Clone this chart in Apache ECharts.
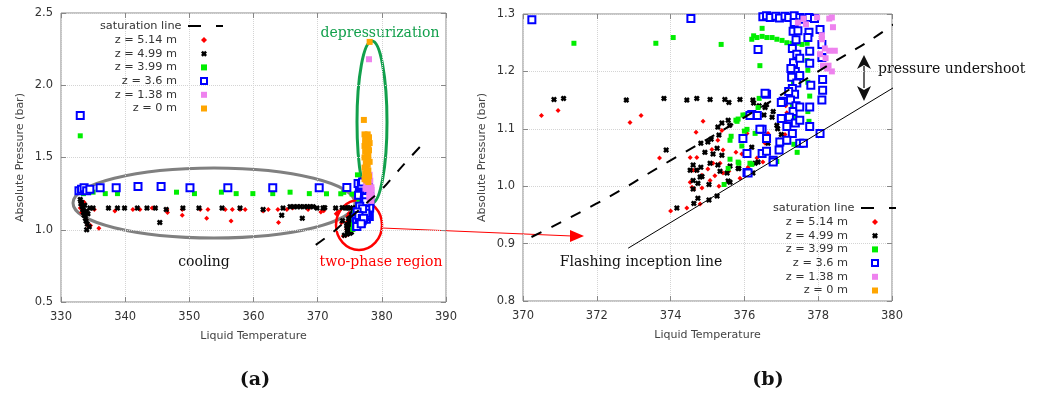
<!DOCTYPE html>
<html>
<head>
<meta charset="utf-8">
<script src="https://cdn.jsdelivr.net/npm/echarts@6/dist/echarts.min.js"></script>
<style>
  html, body { margin: 0; padding: 0; background: #fff; }
  #chart { width: 1043px; height: 397px; }
</style>
</head>
<body>
<div id="chart"></div>
<script>
// [liquid temperature (K), absolute pressure (bar)]
const z514 = [
  [333.0, 1.15], [333.3, 1.17], [333.5, 1.13], [333.7, 1.10], [333.9, 1.07], [334.1, 1.04], [334.3, 1.02],
  [333.6, 1.19], [333.2, 1.12], [334.6, 1.03], [335.9, 1.01], [335.2, 1.14], [338.4, 1.13], [341.2, 1.14],
  [342.3, 1.14], [344.2, 1.15], [346.5, 1.14], [346.6, 1.12], [348.9, 1.10], [348.9, 1.14], [351.7, 1.14],
  [352.7, 1.08], [352.9, 1.14], [355.6, 1.14], [356.5, 1.06], [356.7, 1.14], [357.9, 1.14], [358.7, 1.14],
  [361.5, 1.13], [362.3, 1.14], [363.8, 1.14], [363.9, 1.05], [365.2, 1.14], [366.1, 1.15], [368.5, 1.14],
  [370.5, 1.123], [370.95, 1.132], [372.9, 1.111], [373.2, 1.123], [373.7, 1.049], [374.88, 1.113],
  [374.69, 1.094], [375.39, 1.097], [375.28, 1.080], [375.12, 1.064], [375.42, 1.063], [374.53, 1.050],
  [374.71, 1.050], [375.77, 1.059], [375.93, 1.056], [376.07, 1.092], [376.56, 1.075], [374.61, 1.028],
  [374.71, 1.028], [374.85, 1.019], [375.01, 1.030], [375.07, 1.010], [375.15, 1.040], [375.34, 1.040],
  [375.42, 1.023], [375.58, 1.026], [374.53, 1.007], [374.58, 0.998], [374.63, 0.995], [374.85, 0.997],
  [375.31, 1.000], [375.88, 1.014], [376.10, 1.033], [376.50, 1.042], [374.00, 0.957], [374.44, 0.962],
  [374.80, 0.969], [375.20, 1.018], [376.64, 1.092], [376.34, 1.049], [377.12, 1.140], [377.15, 1.128],
  [377.13, 1.115], [377.17, 1.103], [377.10, 1.090]
];
const z499 = [
  [333.0, 1.21], [333.1, 1.18], [333.3, 1.16], [333.4, 1.14], [333.5, 1.12], [333.6, 1.10], [333.7, 1.17],
  [333.8, 1.08], [333.9, 1.06], [334.0, 1.13], [334.1, 1.04], [334.2, 1.11], [334.4, 1.02], [334.5, 1.15],
  [333.2, 1.19], [334.0, 1.00], [335.0, 1.15], [337.4, 1.15], [338.8, 1.15], [339.9, 1.15], [341.9, 1.15],
  [343.4, 1.15], [344.7, 1.15], [345.4, 1.05], [346.4, 1.14], [349.0, 1.15], [351.5, 1.15], [355.1, 1.15],
  [357.9, 1.15], [361.5, 1.14], [364.6, 1.15], [364.4, 1.10], [365.7, 1.16], [366.3, 1.16], [366.8, 1.16],
  [367.3, 1.16], [367.6, 1.08], [367.9, 1.16], [368.4, 1.16], [368.8, 1.16], [369.3, 1.16], [369.9, 1.15],
  [370.84, 1.151], [371.1, 1.153], [372.8, 1.150], [373.82, 1.153], [374.44, 1.150], [374.71, 1.153],
  [375.07, 1.151], [375.47, 1.151], [375.58, 1.146], [375.88, 1.151], [376.23, 1.150], [376.56, 1.137],
  [376.78, 1.130], [376.60, 1.142], [373.88, 1.063], [374.82, 1.075], [375.01, 1.077], [375.10, 1.082],
  [375.28, 1.103], [375.39, 1.110], [375.56, 1.115], [375.60, 1.106], [375.31, 1.089], [374.93, 1.059],
  [375.15, 1.056], [375.26, 1.066], [375.28, 1.037], [375.39, 1.054], [375.07, 1.040], [374.82, 1.033],
  [374.61, 1.037], [374.71, 1.028], [374.53, 1.028], [374.80, 1.016], [374.61, 1.010], [375.04, 1.003],
  [375.34, 1.026], [375.56, 1.009], [375.61, 1.007], [375.83, 1.031], [375.61, 1.035], [376.07, 1.023],
  [376.23, 1.023], [376.37, 1.042], [376.20, 1.068], [376.29, 1.040], [376.64, 1.075], [376.88, 1.106],
  [376.53, 1.124], [374.17, 0.962], [374.63, 0.970], [375.04, 0.976], [375.26, 0.983], [374.74, 0.979],
  [374.74, 1.005], [374.61, 0.995], [374.85, 1.017], [375.53, 1.023], [375.85, 1.031], [376.25, 1.145],
  [376.40, 1.140], [376.75, 1.120], [376.90, 1.100], [377.00, 1.090], [376.96, 1.080]
];
const z399 = [
  [333.0, 1.65], [333.2, 1.26], [333.5, 1.25], [334.1, 1.26], [335.0, 1.26], [336.9, 1.25], [338.8, 1.25],
  [348.0, 1.26], [350.8, 1.25], [355.0, 1.26], [357.3, 1.25], [359.9, 1.25], [363.0, 1.25], [365.7, 1.26],
  [368.7, 1.25], [371.38, 1.249], [373.6, 1.249], [374.07, 1.259], [375.37, 1.247], [376.34, 1.259],
  [376.48, 1.261], [376.61, 1.259], [376.75, 1.259], [376.88, 1.256], [377.02, 1.254], [377.15, 1.250],
  [377.29, 1.249], [377.43, 1.249], [377.56, 1.247], [377.70, 1.249], [376.20, 1.256], [376.25, 1.262],
  [376.48, 1.275], [376.42, 1.210], [376.40, 1.153], [377.32, 1.240], [377.35, 1.218], [377.37, 1.200],
  [377.33, 1.179], [377.36, 1.160], [377.30, 1.140], [377.34, 1.120], [377.70, 1.219], [377.72, 1.202],
  [377.72, 1.181], [377.77, 1.157], [377.72, 1.130], [377.75, 1.113], [375.80, 1.113], [375.96, 1.124],
  [376.07, 1.099], [376.29, 1.092], [375.64, 1.087], [375.61, 1.047], [375.83, 1.042], [375.45, 1.003],
  [376.56, 1.085], [377.15, 1.077], [377.43, 1.059], [376.37, 1.137], [375.83, 1.117], [375.85, 1.040],
  [375.56, 1.031], [376.02, 1.124], [377.34, 1.073], [376.20, 1.038], [376.88, 1.043], [375.93, 1.070],
  [376.00, 1.096], [375.61, 1.080], [375.77, 1.115], [376.15, 1.040], [376.2, 1.38]
];
const z36 = [
  [333.0, 1.79], [332.8, 1.27], [333.2, 1.28], [333.6, 1.29], [334.0, 1.27], [334.5, 1.28], [336.1, 1.29],
  [338.6, 1.29], [342.0, 1.30], [345.6, 1.30], [350.1, 1.29], [356.0, 1.29], [363.0, 1.29], [370.24, 1.290],
  [374.55, 1.292], [376.5, 1.295], [376.6, 1.297], [376.7, 1.294], [376.85, 1.296], [376.95, 1.293],
  [377.1, 1.296], [377.2, 1.294], [377.35, 1.297], [377.5, 1.294], [377.6, 1.291], [377.75, 1.294],
  [377.9, 1.292], [376.37, 1.238], [376.6, 1.160], [376.2, 1.125], [376.35, 1.123], [376.48, 1.099],
  [375.96, 1.083], [376.07, 1.057], [376.48, 1.057], [376.07, 1.024], [376.6, 1.083], [376.6, 1.061],
  [376.78, 1.045], [376.94, 1.063], [377.05, 1.148], [377.0, 1.118], [377.15, 1.104], [377.3, 1.092],
  [377.5, 1.075], [377.6, 1.075], [378.05, 1.092], [377.35, 1.285], [377.32, 1.270], [377.40, 1.255],
  [377.30, 1.240], [377.42, 1.230], [377.33, 1.215], [377.38, 1.200], [377.28, 1.190], [377.42, 1.180],
  [377.30, 1.170], [377.36, 1.160], [377.25, 1.150], [377.40, 1.140], [377.32, 1.130], [377.22, 1.120],
  [377.38, 1.110], [377.20, 1.165], [377.26, 1.205], [377.45, 1.271], [377.75, 1.268], [377.77, 1.235],
  [377.77, 1.214], [377.80, 1.176], [377.77, 1.138], [377.77, 1.104], [377.72, 1.259], [378.05, 1.273],
  [378.1, 1.247], [378.1, 1.224], [378.12, 1.186], [378.12, 1.167], [378.1, 1.150], [377.5, 1.223],
  [377.5, 1.193], [377.5, 1.138], [377.5, 1.115], [376.56, 1.162], [377.0, 1.146], [376.15, 1.123],
  [376.42, 1.099], [376.96, 1.077], [377.15, 1.080], [376.1, 1.023], [376.78, 1.042], [376.3, 1.32],
  [376.8, 1.31], [377.0, 1.33]
];
const z138 = [
  [377.6, 1.292], [378.3, 1.292], [378.4, 1.277], [378.1, 1.256], [378.18, 1.240], [378.3, 1.236],
  [378.45, 1.236], [378.13, 1.210], [378.28, 1.210], [378.24, 1.205], [378.37, 1.200], [378.05, 1.230],
  [377.67, 1.282], [377.97, 1.294], [378.37, 1.294], [378.1, 1.263], [378.2, 1.223], [377.45, 1.285],
  [378.0, 2.18], [377.6, 1.31], [377.8, 1.33], [378.0, 1.35], [377.9, 1.32], [378.2, 1.34], [377.7, 1.36],
  [378.1, 1.38], [377.5, 1.34]
];
const z0 = [
  [378.1, 2.30], [377.2, 1.76], [377.3, 1.66], [377.5, 1.65], [377.8, 1.66], [378.0, 1.64], [377.4, 1.62],
  [377.7, 1.61], [378.1, 1.60], [377.3, 1.58], [377.6, 1.57], [377.9, 1.58], [377.4, 1.54], [377.7, 1.53],
  [378.0, 1.55], [377.3, 1.50], [377.6, 1.49], [377.9, 1.51], [377.5, 1.46], [377.8, 1.45], [378.1, 1.47],
  [377.3, 1.43], [377.6, 1.42], [377.9, 1.41], [377.4, 1.39], [377.7, 1.38], [378.0, 1.37], [377.3, 1.35],
  [377.6, 1.34], [377.9, 1.33], [377.5, 1.36], [377.8, 1.52], [377.45, 1.60]
];
const saturation = [
  [369.7, 0.895], [372, 0.97], [374, 1.045], [376, 1.12], [378, 1.20], [380, 1.28], [382, 1.38], [384, 1.48], [386.5, 1.60]
];
const inception = [[372.85, 0.892], [380.1, 1.174]];

const lineName = 'saturation line';
const pointNames = ['z = 5.14 m', 'z = 4.99 m', 'z = 3.99 m', 'z = 3.6 m', 'z = 1.38 m', 'z = 0 m'];

const crossPath = 'path://M0,3L3,0L5,2L7,0L10,3L8,5L10,7L7,10L5,8L3,10L0,7L2,5Z';
const groups = [
  { data: z514, symbol: 'diamond', size: 5, style: { color: '#ff0000' } },
  { data: z499, symbol: crossPath, size: 6, style: { color: '#000000' } },
  { data: z399, symbol: 'rect', size: 5, style: { color: '#00ee00' } },
  { data: z36, symbol: 'rect', size: 7, style: { color: '#ffffff', borderColor: '#0000ff', borderWidth: 2 } },
  { data: z138, symbol: 'rect', size: 6, style: { color: '#ee82ee' } },
  { data: z0, symbol: 'rect', size: 6, style: { color: '#ffa500' } }
];

const font = 'DejaVu Sans';
const serif = 'DejaVu Serif';
const borderGray = '#888';

function makeX(grid, min, max, interval, top) {
  return {
    type: 'value', gridIndex: grid, min: min, max: max, interval: interval,
    position: top ? 'top' : 'bottom',
    name: top ? '' : 'Liquid Temperature', nameLocation: 'middle', nameGap: 29,
    nameTextStyle: { fontFamily: font, fontSize: 11, color: '#444' },
    axisLine: { show: false },
    axisTick: { show: true, inside: true, length: 5, lineStyle: { color: borderGray } },
    axisLabel: { show: !top, margin: 9, fontFamily: font, fontSize: 11.5, color: '#333' },
    splitLine: { show: !top, lineStyle: { color: '#d4d4d4', type: 'dotted' } }
  };
}
function makeY(grid, min, max, interval, right) {
  return {
    type: 'value', gridIndex: grid, min: min, max: max, interval: interval,
    position: right ? 'right' : 'left',
    name: right ? '' : 'Absolute Pressure (bar)', nameLocation: 'middle', nameGap: 35,
    nameTextStyle: { fontFamily: font, fontSize: 11, color: '#444' },
    axisLine: { show: false },
    axisTick: { show: true, inside: true, length: 5, lineStyle: { color: borderGray } },
    axisLabel: { show: !right, margin: 8, fontFamily: font, fontSize: 11.5, color: '#333',
      formatter: v => v.toFixed(1) },
    splitLine: { show: !right, lineStyle: { color: '#d4d4d4', type: 'dotted' } }
  };
}

const series = [];
[0, 1].forEach(g => {
  series.push({
    name: lineName, type: 'line', xAxisIndex: g * 2, yAxisIndex: g * 2,
    data: saturation, symbol: 'none', smooth: true, clip: true, silent: true,
    lineStyle: { color: '#000', width: 2, type: [11, 11] }, itemStyle: { color: '#000' }
  });
  groups.forEach((s, i) => {
    series.push({
      name: pointNames[i], type: 'scatter', xAxisIndex: g * 2, yAxisIndex: g * 2,
      data: s.data, symbol: s.symbol, symbolSize: s.size, clip: true, silent: true,
      itemStyle: Object.assign({ opacity: 1 }, s.style)
    });
  });
});
series.push({
  type: 'line', xAxisIndex: 2, yAxisIndex: 2, data: inception, symbol: 'none', clip: true, silent: true,
  lineStyle: { color: '#000', width: 1 }
});

const legendText = { fontFamily: font, fontSize: 11.3, color: '#333', lineHeight: 12 };
// gnuplot style key: text right aligned, sample on the right
function lineKey(right, top) {
  return {
    data: [{ name: lineName, icon: 'path://M0,0L13,0L13,2L0,2ZM28,0L35,0L35,2L28,2Z' }],
    orient: 'vertical', align: 'right', right: right, top: top, padding: 0,
    itemWidth: 38, itemHeight: 2, selectedMode: false, textStyle: legendText
  };
}
function pointKey(right, top) {
  return {
    data: pointNames, orient: 'vertical', align: 'right', right: right, top: top, padding: 0,
    itemWidth: 6, itemHeight: 6, itemGap: 1.7, selectedMode: false,
    textStyle: Object.assign({ padding: [0, 19, 0, 0] }, legendText)
  };
}

const noteText = (x, y, text, color, size, extra) => ({
  type: 'text', x: x, y: y,
  style: Object.assign({ text: text, fill: color, font: size + 'px "' + serif + '"', align: 'center', verticalAlign: 'middle' }, extra || {})
});

const chart = echarts.init(document.getElementById('chart'));
chart.setOption({
  animation: false,
  backgroundColor: '#fff',
  grid: [
    { left: 61, top: 13, width: 385, height: 289, show: true, borderColor: borderGray, borderWidth: 1 },
    { left: 523, top: 14, width: 369, height: 287, show: true, borderColor: borderGray, borderWidth: 1 }
  ],
  xAxis: [makeX(0, 330, 390, 10, false), makeX(0, 330, 390, 10, true), makeX(1, 370, 380, 2, false), makeX(1, 370, 380, 2, true)],
  yAxis: [makeY(0, 0.5, 2.5, 0.5, false), makeY(0, 0.5, 2.5, 0.5, true), makeY(1, 0.8, 1.3, 0.1, false), makeY(1, 0.8, 1.3, 0.1, true)],
  legend: [lineKey(820, 20), pointKey(835, 34), lineKey(147, 202), pointKey(164, 216)],
  series: series,
  graphic: [
    { type: 'ellipse', shape: { cx: 214, cy: 203, rx: 141, ry: 35 }, style: { fill: 'none', stroke: '#808080', lineWidth: 3 } },
    { type: 'ellipse', shape: { cx: 372, cy: 122, rx: 15, ry: 81 }, style: { fill: 'none', stroke: '#12a04c', lineWidth: 3 } },
    { type: 'ellipse', shape: { cx: 359, cy: 225, rx: 23, ry: 25 }, style: { fill: 'none', stroke: '#ff0000', lineWidth: 2.5 } },
    { type: 'line', shape: { x1: 382, y1: 228, x2: 572, y2: 236 }, style: { stroke: '#ff0000', lineWidth: 1 } },
    { type: 'polygon', shape: { points: [[584, 236], [570, 230], [570, 242]] }, style: { fill: '#ff0000' } },
    { type: 'line', shape: { x1: 864, y1: 66, x2: 864, y2: 88 }, style: { stroke: '#666', lineWidth: 2 } },
    { type: 'polygon', shape: { points: [[864, 55], [857, 69], [864, 65], [871, 69]] }, style: { fill: '#111' } },
    { type: 'polygon', shape: { points: [[864, 101], [857, 86], [864, 90], [871, 86]] }, style: { fill: '#111' } },
    noteText(204, 262, 'cooling', '#111', 14),
    noteText(380, 33, 'depressurization', '#12a04c', 14),
    noteText(381, 262, 'two-phase region', '#ff0000', 14),
    noteText(878, 69, 'pressure undershoot', '#111', 14, { align: 'left' }),
    noteText(641, 262, 'Flashing inception line', '#111', 14),
    noteText(255, 380, '(a)', '#111', 19, { font: 'bold 19px "' + serif + '"' }),
    noteText(768, 380, '(b)', '#111', 19, { font: 'bold 19px "' + serif + '"' })
  ]
});
</script>
</body>
</html>
